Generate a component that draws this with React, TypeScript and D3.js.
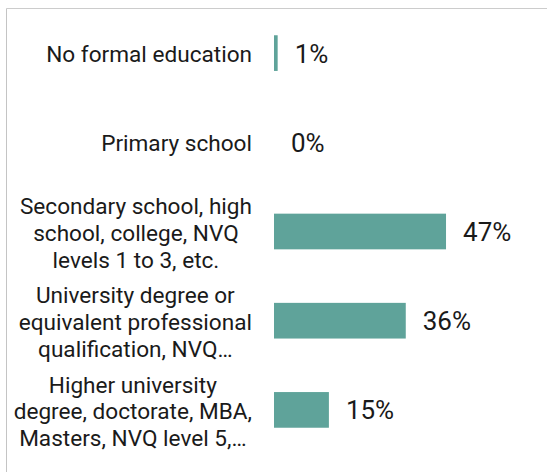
import React, { useEffect, useRef } from 'react';
import * as d3 from 'd3';

// category labels, already wrapped/truncated as shown on screen
const categoryLines: string[][] = [
  ['No formal education'],
  ['Primary school'],
  ['Secondary school, high', 'school, college, NVQ', 'levels 1 to 3, etc.'],
  ['University degree or', 'equivalent professional', 'qualification, NVQ…'],
  ['Higher university', 'degree, doctorate, MBA,', 'Masters, NVQ level 5,…'],
];
const shares: number[] = [1, 0, 47, 36, 15];

const App = () => {
  const svgRef = useRef<SVGSVGElement>(null);

  useEffect(() => {
    const width = 547;
    const height = 472;
    const svg = d3.select(svgRef.current);
    svg.selectAll('*').remove();
    svg.attr('width', width).attr('height', height);

    // frame (only top and left edges are visible in the crop)
    svg.append('line')
      .attr('x1', 6.5).attr('x2', width).attr('y1', 8.5).attr('y2', 8.5)
      .attr('stroke', '#cccccc').attr('stroke-width', 1);
    svg.append('line')
      .attr('x1', 6.5).attr('x2', 6.5).attr('y1', 8.5).attr('y2', height)
      .attr('stroke', '#c4c4c4').attr('stroke-width', 1);

    const idx = d3.range(shares.length).map(String);

    const y = d3.scaleBand()
      .domain(idx)
      .range([8.5, 454.5])
      .paddingInner(0.6)
      .paddingOuter(0.3);

    const x = d3.scaleLinear().domain([0, 100]).range([274, 640]);

    const g = svg.append('g');

    // bars
    g.selectAll('rect.bar')
      .data(shares)
      .enter()
      .append('rect')
      .attr('class', 'bar')
      .attr('x', x(0))
      .attr('y', (_, i) => y(String(i))!)
      .attr('width', (d) => x(d) - x(0))
      .attr('height', y.bandwidth())
      .attr('fill', '#5fa39a');

    // value labels
    g.selectAll('text.value')
      .data(shares)
      .enter()
      .append('text')
      .attr('class', 'value')
      .attr('x', (d) => x(d) + 17)
      .attr('y', (_, i) => y(String(i))! + y.bandwidth() / 2 + 9.5)
      .attr('font-family', 'Roboto, sans-serif')
      .attr('font-size', 26)
      .attr('fill', '#1a1a1a')
      .text((d) => `${d}%`);

    // category labels: block right-aligned, lines centred inside the block
    const lineH = 26.8;
    const right = 252;
    categoryLines.forEach((lines, i) => {
      const cy = y(String(i))! + y.bandwidth() / 2;
      const first = cy + 8.5 + (lines.length > 1 ? 1 : 0) - ((lines.length - 1) / 2) * lineH;
      const t = g.append('text')
        .attr('text-anchor', 'middle')
        .attr('font-family', 'Roboto, sans-serif')
        .attr('font-size', 22.6)
        .attr('fill', '#1a1a1a');
      const spans = lines.map((ln, j) =>
        t.append('tspan')
          .attr('y', first + j * lineH)
          .text(ln)
      );
      const maxW = d3.max(spans, (s) => (s.node() as SVGTextContentElement).getComputedTextLength()) || 0;
      spans.forEach((s) => s.attr('x', right - maxW / 2));
    });
  }, []);

  return (
    <div style={{ position: 'absolute', left: 0, top: 0 }}>
      <svg ref={svgRef} style={{ display: 'block' }}></svg>
    </div>
  );
};

export default App;
